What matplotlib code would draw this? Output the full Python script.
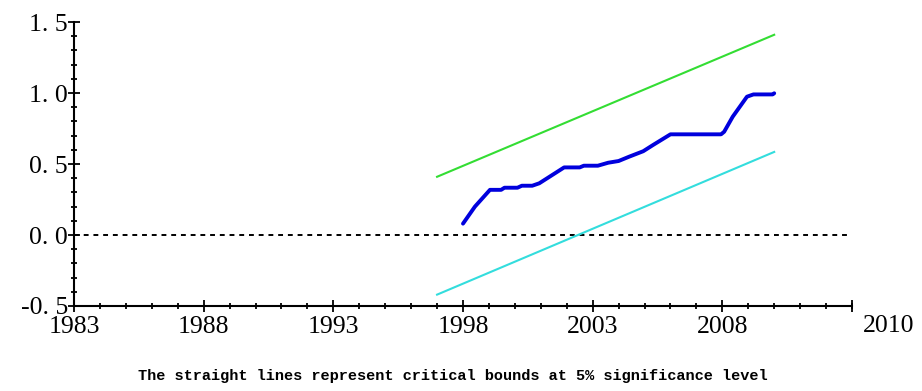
import numpy as np
import matplotlib.pyplot as plt
from matplotlib.ticker import MultipleLocator, FixedLocator, FixedFormatter
import matplotlib.transforms as mtransforms

# recursive residual path
years = [1998.0, 1998.46, 1999.04, 1999.47, 1999.6, 2000.1, 2000.27, 2000.67,
         2000.94, 2001.9, 2002.5, 2002.66, 2003.2, 2003.6, 2004.0, 2004.4,
         2004.95, 2005.33, 2006.0, 2007.95, 2008.07, 2008.4, 2008.95, 2009.2,
         2009.94, 2010.0]
stat = [0.08, 0.20, 0.318, 0.318, 0.333, 0.333, 0.347, 0.347,
        0.364, 0.476, 0.476, 0.488, 0.488, 0.509, 0.521, 0.551,
        0.59, 0.634, 0.709, 0.709, 0.727, 0.833, 0.974, 0.99,
        0.99, 0.998]

# critical bounds (straight lines, end points)
bound_years = [1997, 2010]
upper = [0.41, 1.41]
lower = [-0.42, 0.585]

xticks = [1983, 1988, 1993, 1998, 2003, 2008]
xlabels = ['1983', '1988', '1993', '1998', '2003', '2008']
yticks = [-0.5, 0.0, 0.5, 1.0, 1.5]
ylabels = ['-0. 5', '0. 0', '0. 5', '1. 0', '1. 5']
end_label = '2010'
caption = 'The straight lines represent critical bounds at 5% significance level'

fig = plt.figure(figsize=(9.22, 3.91), dpi=100)
ax = fig.add_axes([74 / 922, 1 - 306 / 391, (852 - 74) / 922, (306 - 22) / 391])

ax.plot([1983, 2012.8], [0, 0], color='black', lw=1.4, ls=(0, (2.5, 2.5)))
ax.plot(bound_years, upper, color='#33dd33', lw=1.5)
ax.plot(bound_years, lower, color='#33dddd', lw=1.5)
ax.plot(years, stat, color='#0000dd', lw=2.8, solid_capstyle='round')

ax.set_xlim(1983, 2013)
ax.set_ylim(-0.5, 1.5)

for s in ['top', 'right']:
    ax.spines[s].set_visible(False)
for s in ['left', 'bottom']:
    ax.spines[s].set_linewidth(1.5)

ax.xaxis.set_major_locator(FixedLocator(xticks))
ax.xaxis.set_major_formatter(FixedFormatter(xlabels))
ax.xaxis.set_minor_locator(MultipleLocator(1))
ax.yaxis.set_major_locator(FixedLocator(yticks))
ax.yaxis.set_major_formatter(FixedFormatter(ylabels))
ax.yaxis.set_minor_locator(MultipleLocator(0.1))

ax.tick_params(which='major', direction='inout', length=8.5, width=1.3)
ax.tick_params(which='minor', direction='inout', length=4.5, width=1.3)
ax.tick_params(axis='x', which='major', pad=3)
ax.tick_params(axis='y', which='major', pad=0)

# the last tick at 2013 on the axis
ax.plot([2013], [-0.5], marker='|', ms=8.5, mew=1.3, color='black', clip_on=False)

font = 'Liberation Serif'
for lab in ax.get_xticklabels() + ax.get_yticklabels():
    lab.set_fontfamily(font)
    lab.set_fontsize(18.5)

trans = mtransforms.blended_transform_factory(ax.transData, ax.transAxes)
ax.text(2014.4, -0.03, end_label, transform=trans, ha='center', va='top',
        fontsize=18.5, family=font)

fig.text(453 / 922, 1 - 376 / 391, caption, ha='center', va='center',
         fontsize=11, family='Liberation Mono', fontweight='bold')

fig.savefig('out.png', dpi=100)
